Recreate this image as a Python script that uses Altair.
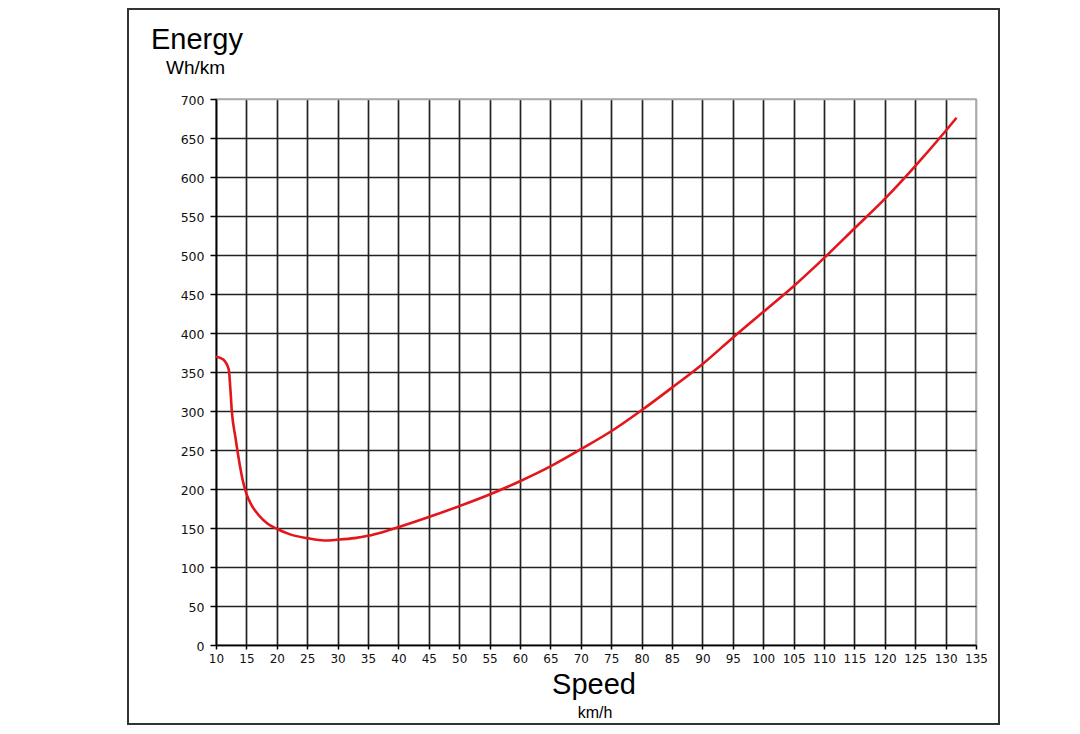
import altair as alt
import pandas as pd

# Curve (speed km/h, energy Wh/km)
speed = [10, 11.2, 12.1, 12.35, 12.6, 13.2, 13.8, 14.4, 15, 15.8, 17.2, 18.5, 20,
         22.3, 25, 27.8, 30, 32.8, 35, 37.5, 40, 45, 50, 55, 60, 65, 70, 75, 80,
         85, 90, 95, 100, 105, 110, 115, 120, 125, 130, 131.8]
energy = [370, 366, 353, 330, 300, 266, 236, 211, 194, 180, 165, 155.5, 149,
          141.5, 137, 134, 135, 137, 140, 145, 151, 164, 178, 193, 210, 229, 251,
          274, 301, 330, 360, 394, 427, 460, 496, 534, 572, 614, 659, 676]

x_ticks = list(range(10, 136, 5))
y_ticks = list(range(0, 701, 50))

df = pd.DataFrame({"speed": speed, "energy": energy})
one = pd.DataFrame({"a": [0]})

line = alt.Chart(df).mark_line(
    color="#e3161b", strokeWidth=2.6, interpolate="monotone"
).encode(
    x=alt.X("speed:Q",
            scale=alt.Scale(domain=[10, 135], nice=False, zero=False),
            axis=alt.Axis(values=x_ticks, title=None, grid=True,
                          gridColor={"condition": {"test": "datum.value >= 135", "value": "#aaaaaa"}, "value": "#222222"},
                          labelFont="DejaVu Sans", labelFontSize=12, labelColor="#111",
                          tickSize=4, labelPadding=4, labelFlush=False)),
    y=alt.Y("energy:Q",
            scale=alt.Scale(domain=[0, 700], nice=False),
            axis=alt.Axis(values=y_ticks, title=None, grid=True,
                          gridColor={"condition": {"test": "datum.value >= 700", "value": "#aaaaaa"}, "value": "#222222"},
                          labelFont="DejaVu Sans", labelFontSize=12.5, labelColor="#111",
                          tickSize=6, labelPadding=6, labelFlush=False, labelOffset=1)),
)

def label(txt, x, y, size, align="left"):
    return alt.Chart(one).mark_text(
        text=txt, align=align, baseline="alphabetic", fontSize=size,
        font="Liberation Sans", color="#000"
    ).encode(x=alt.value(x), y=alt.value(y))

energy_t = label("Energy", -65, -50, 29)
wh_t = label("Wh/km", -50, -25, 19)
speed_t = label("Speed", 378, 595, 29, align="center")
kmh_t = label("km/h", 379, 619, 16, align="center")

frame = alt.Chart(one).mark_rect(
    filled=False, stroke="#333", strokeWidth=2
).encode(x=alt.value(-88), x2=alt.value(783), y=alt.value(-90), y2=alt.value(625))

chart = alt.layer(frame, line, energy_t, wh_t, speed_t, kmh_t).properties(
    width=760, height=546,
    autosize=alt.AutoSizeParams(type="none"),
    padding={"left": 208, "top": 91, "right": 96, "bottom": 81},
    background="white",
).configure_view(
    stroke="#aaaaaa", strokeWidth=1.5
).configure_axis(
    domainColor="#000", domainWidth=1.5, tickColor="#000", tickWidth=1.5,
    gridWidth=1.7, gridOpacity=1
)

chart.save("out.html", embed_options={"renderer": "svg", "actions": False})
